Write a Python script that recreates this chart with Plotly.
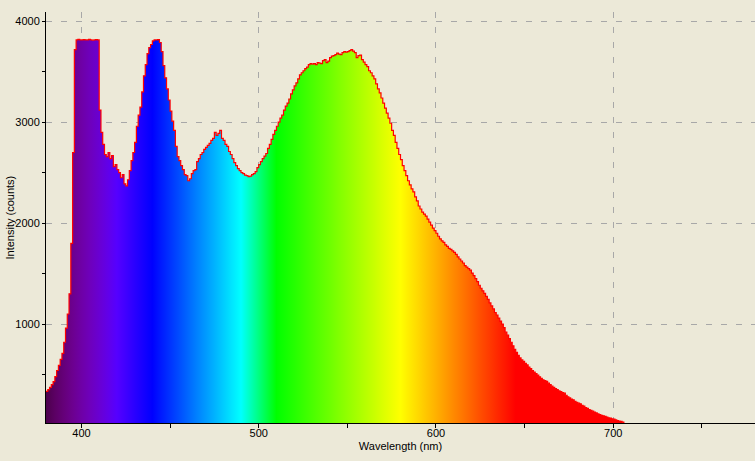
import plotly.graph_objects as go

# ---- data ----
wl_start = 380
intensity = [
    333, 350, 372, 400, 430, 480, 540, 590, 650, 710,          # 380-389
    820, 960, 1100, 1300, 1800, 2700, 3720, 3815, 3820, 3815,  # 390-399
    3815, 3818, 3815, 3815, 3820, 3815, 3812, 3815, 3818, 3815,  # 400-409
    3120, 2900, 2780, 2680, 2660, 2700, 2640, 2670, 2560, 2580,  # 410-419
    2530, 2500, 2450, 2480, 2390, 2370, 2430, 2520, 2620, 2700,  # 420-429
    2800, 2960, 3070, 3150, 3300, 3460, 3570, 3680, 3740, 3770,  # 430-439
    3805, 3815, 3815, 3818, 3790, 3700, 3560, 3440, 3330, 3220,  # 440-449
    3110, 3010, 2920, 2760, 2660, 2620, 2570, 2530, 2480, 2470,  # 450-459
    2420, 2440, 2490, 2520, 2530, 2610, 2640, 2680, 2700, 2730,  # 460-469
    2750, 2770, 2790, 2820, 2840, 2900, 2870, 2890, 2920, 2840,  # 470-479
    2820, 2780, 2760, 2710, 2680, 2640, 2600, 2570, 2540, 2520,  # 480-489
    2500, 2490, 2475, 2470, 2460, 2465, 2480, 2490, 2510, 2550,  # 490-499
    2580, 2610, 2640, 2665, 2690, 2740, 2780, 2830, 2880, 2920,  # 500-509
    2960, 3000, 3040, 3070, 3120, 3160, 3190, 3230, 3280, 3320,  # 510-519
    3360, 3390, 3430, 3470, 3490, 3510, 3530, 3545, 3570, 3580,  # 520-529
    3575, 3580, 3570, 3590, 3585, 3580, 3610, 3620, 3590, 3605,  # 530-539
    3640, 3655, 3660, 3670, 3685, 3675, 3670, 3690, 3700, 3695,  # 540-549
    3700, 3710, 3720, 3705, 3690, 3640, 3660, 3665, 3620, 3595,  # 550-559
    3570, 3550, 3510, 3490, 3460, 3430, 3380, 3330, 3290, 3240,  # 560-569
    3190, 3140, 3090, 3040, 2990, 2920, 2870, 2800, 2740, 2680,  # 570-579
    2630, 2570, 2520, 2470, 2420, 2380, 2340, 2310, 2260, 2220,  # 580-589
    2170, 2140, 2110, 2090, 2070, 2040, 2010, 1980, 1950, 1925,  # 590-599
    1900, 1870, 1845, 1825, 1810, 1785, 1770, 1750, 1740, 1725,  # 600-609
    1710, 1690, 1665, 1645, 1625, 1605, 1580, 1565, 1550, 1535,  # 610-619
    1505, 1480, 1450, 1420, 1385, 1355, 1330, 1305, 1275, 1245,  # 620-629
    1210, 1180, 1150, 1115, 1090, 1060, 1030, 1000, 965, 920,    # 630-639
    890, 855, 820, 785, 750, 720, 690, 665, 645, 630,            # 640-649
    610, 595, 575, 560, 540, 525, 510, 495, 478, 462,            # 650-659
    448, 440, 432, 415, 400, 385, 372, 360, 350, 338,            # 660-669
    330, 320, 315, 295, 280, 268, 258, 250, 235, 224,            # 670-679
    216, 210, 195, 188, 172, 165, 152, 145, 137, 128,            # 680-689
    120, 110, 102, 95, 92, 85, 79, 72, 69, 62,                   # 690-699
    58, 50, 45, 40, 36, 28, 0,                                   # 700-706
]
wavelength = [wl_start + i for i in range(len(intensity))]

x_ticks = [400, 500, 600, 700]
y_ticks = [1000, 2000, 3000, 4000]


# ---- spectral colour scale (style) ----
def spectral_rgb(w):
    if w < 440:
        r, g, b = -(w - 440) / 60.0, 0.0, 1.0
    elif w < 490:
        r, g, b = 0.0, (w - 440) / 50.0, 1.0
    elif w < 510:
        r, g, b = 0.0, 1.0, -(w - 510) / 20.0
    elif w < 580:
        r, g, b = (w - 510) / 70.0, 1.0, 0.0
    elif w < 645:
        r, g, b = 1.0, -(w - 645) / 65.0, 0.0
    else:
        r, g, b = 1.0, 0.0, 0.0
    if w < 420:
        f = 0.3 + 0.7 * (w - 380) / 40.0
    elif w > 700:
        f = 0.3 + 0.7 * (780 - w) / 80.0
    else:
        f = 1.0
    return "rgb(%d,%d,%d)" % (round(255 * r * f), round(255 * g * f), round(255 * b * f))


stops = list(range(380, 781, 5))
colorscale = [[(s - 380) / 400.0, spectral_rgb(s)] for s in stops]

bg = "#ECE9D8"
font = dict(family="Liberation Sans, Arial, sans-serif", size=11, color="black")

fig = go.Figure(
    go.Scatter(
        x=wavelength,
        y=intensity,
        mode="lines",
        line=dict(color="#FF0000", width=1.2, shape="hv"),
        fill="tozeroy",
        fillgradient=dict(type="horizontal", colorscale=colorscale, start=380, stop=780),
        hoverinfo="skip",
        showlegend=False,
    )
)

fig.update_layout(
    width=755,
    height=461,
    margin=dict(l=46, r=0, t=12, b=38),
    paper_bgcolor=bg,
    plot_bgcolor=bg,
    font=font,
    xaxis=dict(
        range=[380, 780],
        tickvals=x_ticks,
        ticks="",
        showgrid=True,
        gridcolor="#A8A8A8",
        gridwidth=1,
        griddash="6px,9px",
        showline=True,
        linecolor="black",
        linewidth=1,
        zeroline=False,
        minor=dict(ticks="outside", dtick=50, tick0=0, ticklen=4, tickcolor="black", showgrid=False),
        title=dict(text="Wavelength (nm)", font=font, standoff=4),
        tickfont=font,
    ),
    yaxis=dict(
        range=[20, 4092],
        tickvals=y_ticks,
        ticks="outside",
        ticklen=3,
        tickcolor="black",
        showgrid=True,
        gridcolor="#A8A8A8",
        gridwidth=1,
        griddash="6px,9px",
        showline=True,
        linecolor="black",
        linewidth=1,
        zeroline=False,
        minor=dict(ticks="outside", dtick=500, tick0=0, ticklen=3, tickcolor="black", showgrid=False),
        tickfont=font,
    ),
    annotations=[
        dict(
            text="Intensity (counts)",
            textangle=-90,
            xref="paper",
            yref="paper",
            x=0,
            y=0.5,
            xanchor="center",
            yanchor="middle",
            xshift=-37,
            showarrow=False,
            font=font,
        )
    ],
)

fig.write_html("out.html")
